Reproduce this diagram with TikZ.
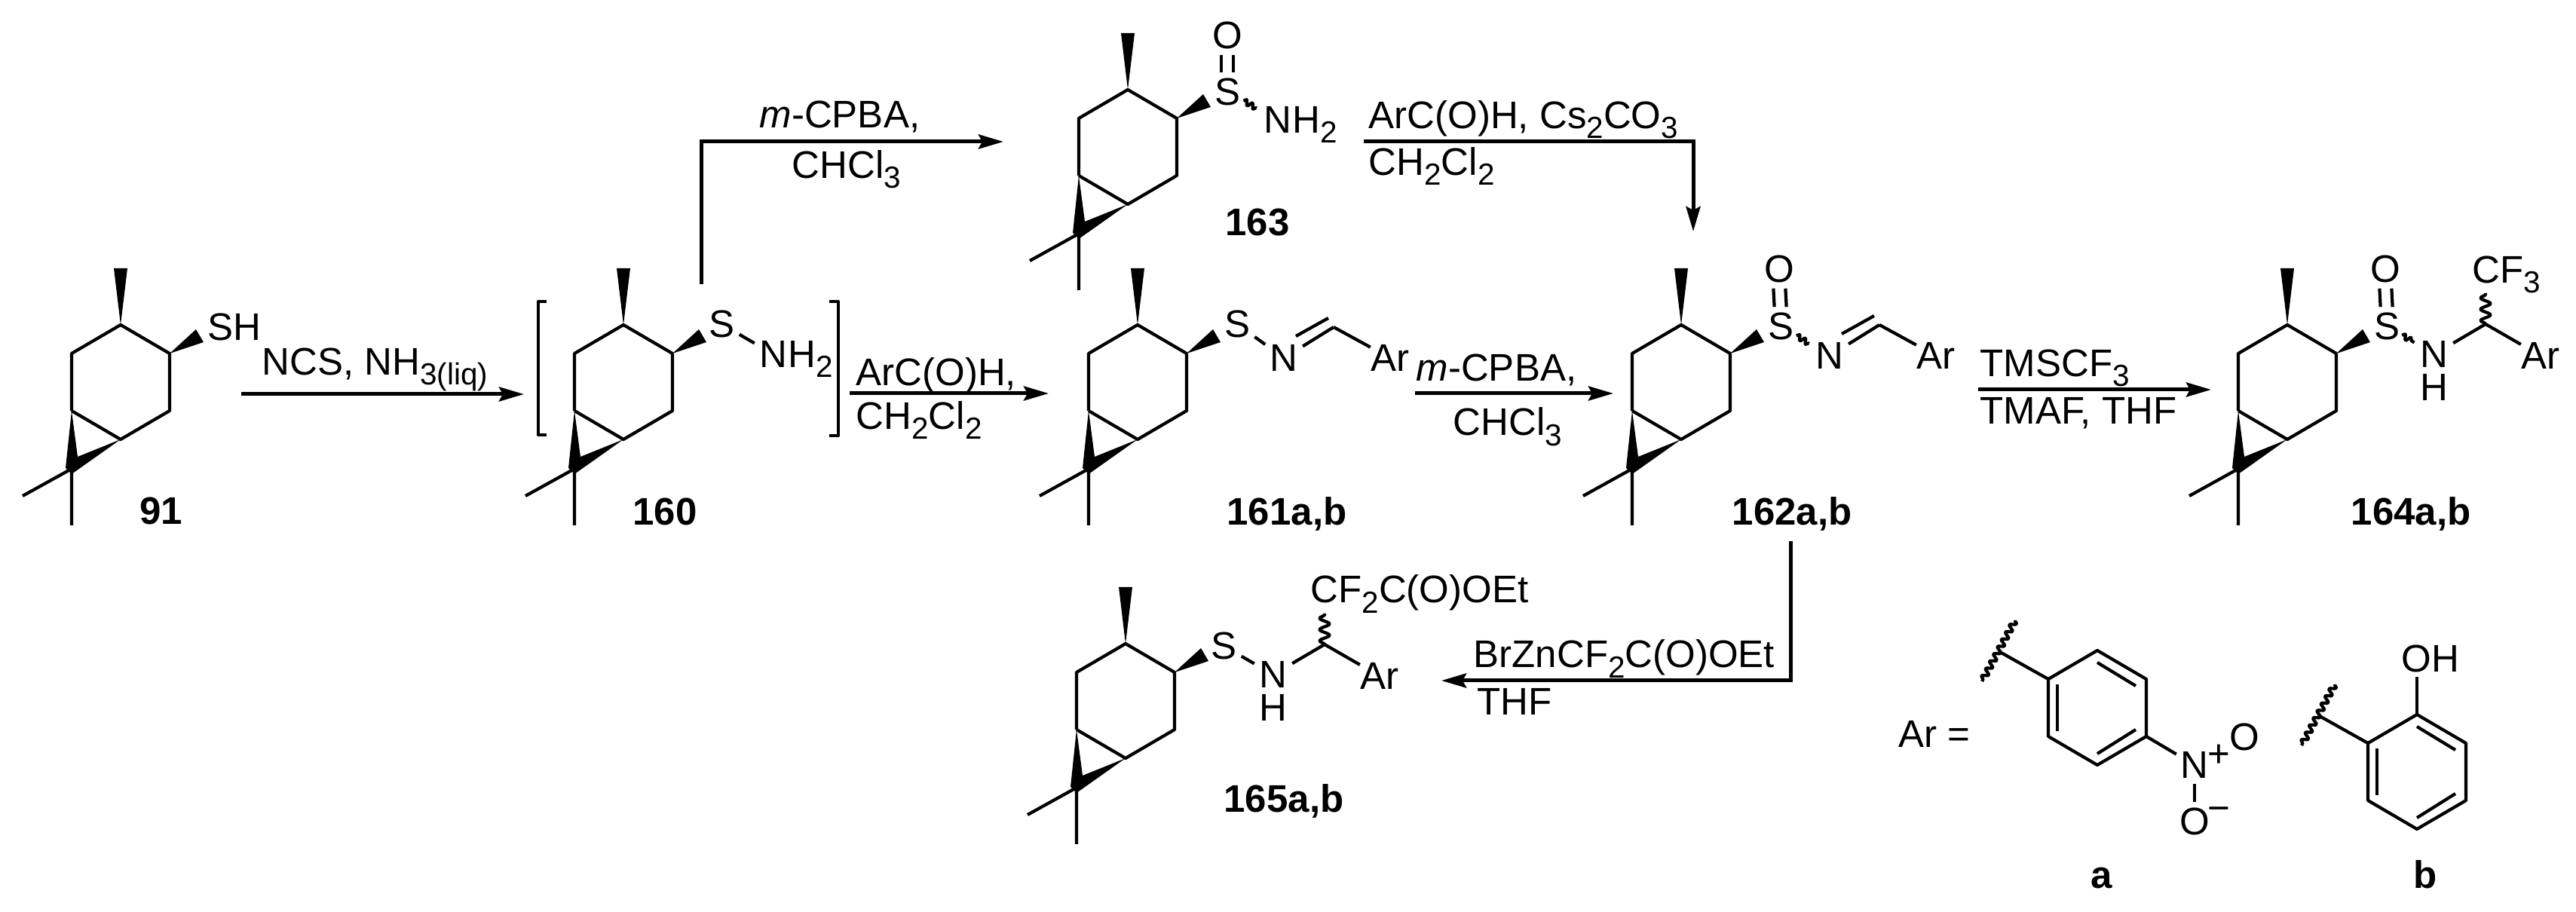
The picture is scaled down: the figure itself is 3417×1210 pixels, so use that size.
\documentclass[tikz,border=0pt]{standalone}
\usepackage{fontspec}
\setmainfont{Liberation Sans}
\usepackage{tikz}
\usetikzlibrary{positioning,calc,arrows.meta,decorations.pathmorphing}
\newcommand{\atomfont}{\fontsize{14.5}{17}\selectfont}
\newcommand{\subs}[1]{\raisebox{-.13cm}{\fontsize{11.5}{12}\selectfont #1}}
\newcommand{\sdoub}[2]{
\draw[bond,shorten >=.07cm,shorten <=.07cm] ([xshift=-.08cm]#1.north)--([xshift=-.08cm]#2.south);
\draw[bond,shorten >=.07cm,shorten <=.07cm] ([xshift=.08cm]#1.north)--([xshift=.08cm]#2.south);
}
\newcommand{\swave}[2]{\draw[bond,decorate,decoration={snake,amplitude=.035cm,segment length=.09cm,pre length=0pt,post length=0pt}] ($(#1)!.32!(#2)$)--($(#1)!.58!(#2)$);}
\tikzset{
bond/.style={line width=.042cm,line join=round},
gap/.style={bond,shorten >=.07cm,shorten <=.07cm},
atom/.style={font=\atomfont,inner sep=0pt},
txt/.style={font=\atomfont,inner sep=0pt,anchor=base west},
cmpd/.style={font=\atomfont\bfseries,inner sep=0pt,anchor=base},
rxn/.style={line width=.05cm,-{Stealth[length=.33cm,width=.19cm,inset=.05cm]}},
wave/.style={bond,decorate,decoration={snake,amplitude=.065cm,segment length=.15cm,pre length=0pt,post length=0pt}},
carene/.pic={
\coordinate (-ul) at (0,0);
\coordinate (-top) at (65,-38);
\coordinate (-ur) at (130,0);
\coordinate (-lr) at (130,76);
\coordinate (-bot) at (65,114);
\coordinate (-ll) at (0,76);
\coordinate (-gem) at (0,153);
\coordinate (-me) at (-65,189);
\coordinate (-md) at (0,228);
\draw[bond] (-ll)--(-ul)--(-top)--(-ur)--(-lr)--(-bot)--(-ll);
\draw[bond] (-me)--(-gem)--(-md);
\fill (-top)--(56,-113)--(74,-113)--cycle;
\fill (-ur)--(165,-32)--(175,-15)--cycle;
\fill (-ll)--(-8,152)--(0,160)--(-bot)--(8,137)--cycle;
},
imine/.pic={
\node[atom] (-n) at (0,0) {N};
\coordinate (-c) at (66,-41);
\coordinate (-d1) at (16,-29);
\coordinate (-d2) at (59,-53);
\node[atom] (-ar) at (141,0) {Ar};
\draw[bond,shorten >=.07cm] (-c)--(-n);
\draw[bond] (-d1)--(-d2);
\draw[bond] (-c)--(-ar);
},
amine/.pic={
\node[atom] (-n) at (0,0) {N};
\node[atom] (-h) at (0,44) {H};
\coordinate (-c) at (68,-40);
\coordinate (-w) at (68,-81);
\node[atom] (-ar) at (141,2) {Ar};
\draw[bond,shorten >=.07cm] (-c)--(-n);
\draw[bond] (-c)--(-ar);
\draw[wave] (-c)--(-w);
},
aryl/.pic={
\coordinate (-t) at (0,0);
\coordinate (-ur) at (65,38);
\coordinate (-lr) at (65,114);
\coordinate (-b) at (0,152);
\coordinate (-ll) at (-65,114);
\coordinate (-ul) at (-65,38);
\coordinate (-x) at (-131,1);
\coordinate (-w1) at (-109,-40);
\coordinate (-w2) at (-153,41);
\draw[bond] (-t)--(-ur)--(-lr)--(-b)--(-ll)--(-ul)--cycle;
\draw[bond] (-53,45)--(-53,107);
\draw[bond] (0,16)--(51,47);
\draw[bond] (51,105)--(0,137);
\draw[bond] (-ul)--(-x);
\draw[bond,decorate,decoration={snake,amplitude=.04cm,segment length=.11cm,pre length=0pt,post length=0pt}] (-w1)--(-w2);
}
}
\begin{document}
\begin{tikzpicture}[x=.01cm,y=-.01cm]
\useasboundingbox (0,0) rectangle (3417,1210);
\pic (m91) at (95,469) {carene};
\pic (m160) at (762,469) {carene};
\pic (m161) at (1444,469) {carene};
\pic (m163) at (1431,157) {carene};
\pic (m162) at (2165,469) {carene};
\pic (m164) at (2969,469) {carene};
\pic (m165) at (1428,892) {carene};

\node[txt] (sh91) at (275,452) {SH};
\node[cmpd] (l91) at (214,696) {91};

\draw[bond] (725,400)--(714,400)--(714,577)--(725,577);
\draw[bond] (1100,400)--(1112,400)--(1112,578)--(1100,578);
\node[atom] (s160) at (957,430) {S};
\node[atom] (n160) at (1026,470) {N};
\node[atom,base right=0pt of n160] (h160) {H\subs{2}};
\draw[gap] (s160)--(n160);
\node[cmpd] (l160) at (882,697) {160};

\node[atom] (s161) at (1641,430) {S};
\pic (i161) at (1703,475) {imine};
\draw[gap] (s161)--(i161-n);
\node[cmpd] (l161) at (1707,697) {161a,b};

\node[atom] (s163) at (1628,122) {S};
\node[atom] (o163) at (1628,47) {O};
\node[atom] (n163) at (1695,159) {N};
\node[atom,base right=0pt of n163] (h163) {H\subs{2}};
\sdoub{s163}{o163}
\swave{s163}{n163}
\node[cmpd] (l163) at (1668,313) {163};

\node[atom] (s162) at (2362,433) {S};
\node[atom] (o162) at (2360,357) {O};
\pic (i162) at (2427,472) {imine};
\sdoub{s162}{o162}
\swave{s162}{i162-n}
\node[cmpd] (l162) at (2377,697) {162a,b};

\node[atom] (s164) at (3166,433) {S};
\node[atom] (o164) at (3164,357) {O};
\pic (a164) at (3229,470) {amine};
\sdoub{s164}{o164}
\swave{s164}{a164-n}
\node[txt] (cf164) at (3279,376) {CF\subs{3}};
\node[cmpd] (l164) at (3198,697) {164a,b};

\node[atom] (s165) at (1623,857) {S};
\pic (a165) at (1689,895) {amine};
\draw[gap] (s165)--(a165-n);
\node[txt] (cf165) at (1738,800) {CF\subs{2}C(O)OEt};
\node[cmpd] (l165) at (1703,1078) {165a,b};

\coordinate (r1a) at (320,523);
\coordinate (r1b) at (695,523);
\draw[rxn] (r1a)--(r1b);
\node[txt] (t1) at (347,498) {NCS, NH\subs{3(liq)}};

\coordinate (r2a) at (1127,522);
\coordinate (r2b) at (1391,522);
\draw[rxn] (r2a)--(r2b);
\node[txt] (t2a) at (1135,512) {ArC(O)H,};
\node[txt] (t2b) at (1135,570) {CH\subs{2}Cl\subs{2}};

\coordinate (r3a) at (1877,522);
\coordinate (r3b) at (2140,522);
\draw[rxn] (r3a)--(r3b);
\node[txt] (t3a) at (1878,506) {\textit{m}-CPBA,};
\node[txt] (t3b) at (1927,578) {CHCl\subs{3}};

\coordinate (r4a) at (2624,517);
\coordinate (r4b) at (2933,517);
\draw[rxn] (r4a)--(r4b);
\node[txt] (t4a) at (2626,500) {TMSCF\subs{3}};
\node[txt] (t4b) at (2626,563) {TMAF, THF};

\coordinate (r5a) at (930,377);
\coordinate (r5b) at (1331,188);
\draw[rxn] (r5a)|-(r5b);
\node[txt] (t5a) at (1007,170) {\textit{m}-CPBA,};
\node[txt] (t5b) at (1050,237) {CHCl\subs{3}};

\coordinate (r6a) at (1809,188);
\coordinate (r6b) at (2246,307);
\draw[rxn] (r6a)-|(r6b);
\node[txt] (t6a) at (1815,171) {ArC(O)H, Cs\subs{2}CO\subs{3}};
\node[txt] (t6b) at (1815,233) {CH\subs{2}Cl\subs{2}};

\coordinate (r7a) at (2375,718);
\coordinate (r7b) at (1912,903);
\draw[rxn] (r7a)|-(r7b);
\node[txt] (t7a) at (1954,886) {BrZnCF\subs{2}C(O)OEt};
\node[txt] (t7b) at (1959,949) {THF};

\node[txt] (arq) at (2518,992) {Ar =};
\pic (ra) at (2782,863) {aryl};
\node[atom] (no) at (2911,1015) {N};
\node[atom] (plus) at (2943,1003) {+};
\node[atom] (o1) at (2977,978) {O};
\node[atom] (o2) at (2911,1090) {O};
\node[atom] (minus) at (2943,1080) {−};
\draw[bond,shorten >=.06cm] (ra-lr)--(no);
\draw[gap] (no)--(o2);
\node[cmpd] (la) at (2788,1179) {a};

\pic (rb) at (3206,948) {aryl};
\node[atom] (oh) at (3224,874) {OH};
\draw[bond,shorten >=.05cm] (rb-t)--(oh.south -| rb-t);
\node[cmpd] (lb) at (3217,1179) {b};
\end{tikzpicture}
\end{document}
